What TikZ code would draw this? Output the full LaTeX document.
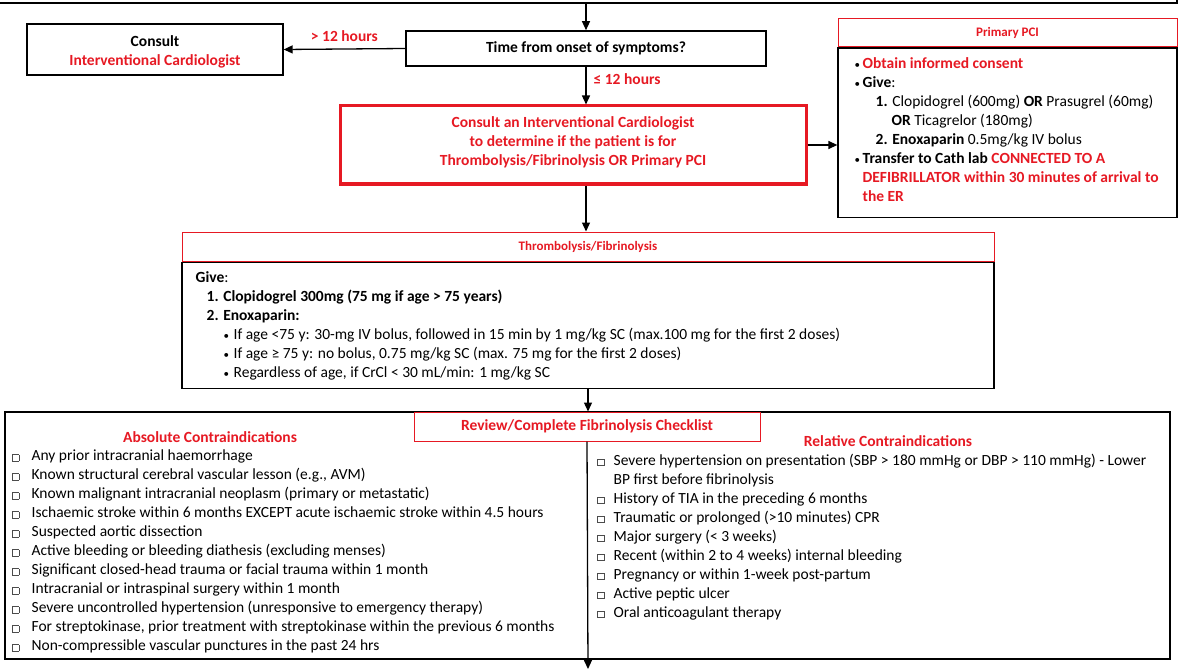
\documentclass[tikz,border=0pt]{standalone}
\usepackage{fontspec}
\setmainfont{Carlito}
\usetikzlibrary{positioning,arrows.meta}
\definecolor{cardred}{RGB}{230,25,35}
\newcommand{\rd}[1]{{\color{cardred}\bfseries #1}}
\newcommand{\chk}{\textcolor{black!70}{\setlength{\fboxsep}{0pt}\setlength{\fboxrule}{0.6pt}\fbox{\rule{0pt}{6pt}\rule{6pt}{0pt}}}}
\newcommand{\dotitem}[1][8pt]{\makebox[#1][l]{\fontsize{11}{11}\selectfont\textbullet}}
\begin{document}
\begin{tikzpicture}[x=1pt,y=-1pt,>={Triangle[length=9pt,width=8pt]},line width=1.3pt,font=\fontsize{15.5}{19}\selectfont]
    \tikzset{
        flowbox/.style={draw, align=center, inner sep=0pt},
        redbox/.style={draw=cardred, line width=3pt, align=center, inner sep=0pt, text=cardred, font=\fontsize{15.5}{19}\selectfont\bfseries},
        headbox/.style={draw=cardred, line width=1pt, fill=white, text=cardred, inner sep=0pt, font=\fontsize{13}{15}\selectfont\bfseries},
        listtext/.style={align=left, inner sep=0pt, anchor=north west},
        redlabel/.style={text=cardred, font=\fontsize{15.5}{19}\selectfont\bfseries, inner sep=2pt}
    }
    \useasboundingbox (0,0) rectangle (1182,671);
    \node[flowbox, line width=2.5pt, minimum width=1180, minimum height=46] (prevstep) at (587,-20) {};
    \node[flowbox, line width=1.6pt, minimum width=360, minimum height=35] (onset) at (586,48.5) {\bfseries Time from onset of symptoms?};
    \node[flowbox, minimum width=256, minimum height=51] (consult) at (155,49.5) {\rule{0pt}{16pt}\bfseries Consult\\\rd{Interventional Cardiologist}};
    \node[redbox, minimum width=466, minimum height=78] (decide) at (573,145) {Consult an Interventional Cardiologist\\to determine if the patient is for\\Thrombolysis/Fibrinolysis OR Primary PCI\rule[-7pt]{0pt}{7pt}};

    \node[headbox, minimum width=339, minimum height=28] (pcihead) at (1007.5,33) {Primary PCI};
    \node[flowbox, minimum width=339, minimum height=169, below=0pt of pcihead] (pcibody) {};
    \node[listtext] (pcitext) at (854,56.5) {\dotitem\rd{Obtain informed consent}\\
        \dotitem\textbf{Give}:\\
        \hspace*{21pt}\textbf{1.} Clopidogrel (600mg) \textbf{OR} Prasugrel (60mg)\\
        \hspace*{37pt}\textbf{OR} Ticagrelor (180mg)\\
        \hspace*{21pt}\textbf{2. Enoxaparin} 0.5mg/kg IV bolus\\
        \dotitem\textbf{Transfer to Cath lab} \rd{CONNECTED TO A}\\
        \hspace*{8pt}\rd{DEFIBRILLATOR within 30 minutes of arrival to}\\
        \hspace*{8pt}\rd{the ER}};

    \node[headbox, minimum width=812, minimum height=29] (thromhead) at (588,246.5) {Thrombolysis/Fibrinolysis};
    \node[flowbox, minimum width=812, minimum height=126, below=0pt of thromhead] (thrombody) {};
    \node[listtext] (thromtext) at (195,271) {\textbf{Give}:\\
        \hspace*{11pt}\textbf{1. Clopidogrel 300mg (75 mg if age > 75 years)}\\
        \hspace*{11pt}\textbf{2. Enoxaparin:}\\
        \hspace*{28pt}\dotitem[10pt]If age <75 y: 30-mg IV bolus, followed in 15 min by 1 mg/kg SC (max.100 mg for the first 2 doses)\\
        \hspace*{28pt}\dotitem[10pt]If age ≥ 75 y: no bolus, 0.75 mg/kg SC (max. 75 mg for the first 2 doses)\\
        \hspace*{28pt}\dotitem[10pt]Regardless of age, if CrCl < 30 mL/min: 1 mg/kg SC};

    \node[flowbox, line width=1.8pt, minimum width=1165, minimum height=247] (checkframe) at (587.5,535.5) {};
    \node[headbox, font=\fontsize{15.5}{19}\selectfont\bfseries, minimum width=346, minimum height=29] (checkhead) at (587,426.5) {Review/Complete Fibrinolysis Checklist};
    \node[redlabel] (abstitle) at (210,437) {Absolute Contraindications};
    \node[redlabel] (reltitle) at (888,441) {Relative Contraindications};
    \node[listtext] (abslist) at (11.5,449.5) {\makebox[19.5pt][l]{\chk}Any prior intracranial haemorrhage\\
        \makebox[19.5pt][l]{\chk}Known structural cerebral vascular lesson (e.g., AVM)\\
        \makebox[19.5pt][l]{\chk}Known malignant intracranial neoplasm (primary or metastatic)\\
        \makebox[19.5pt][l]{\chk}Ischaemic stroke within 6 months EXCEPT acute ischaemic stroke within 4.5 hours\\
        \makebox[19.5pt][l]{\chk}Suspected aortic dissection\\
        \makebox[19.5pt][l]{\chk}Active bleeding or bleeding diathesis (excluding menses)\\
        \makebox[19.5pt][l]{\chk}Significant closed-head trauma or facial trauma within 1 month\\
        \makebox[19.5pt][l]{\chk}Intracranial or intraspinal surgery within 1 month\\
        \makebox[19.5pt][l]{\chk}Severe uncontrolled hypertension (unresponsive to emergency therapy)\\
        \makebox[19.5pt][l]{\chk}For streptokinase, prior treatment with streptokinase within the previous 6 months\\
        \makebox[19.5pt][l]{\chk}Non-compressible vascular punctures in the past 24 hrs};
    \node[listtext] (rellist) at (596.5,453.5) {\makebox[16.5pt][l]{\chk}Severe hypertension on presentation (SBP > 180 mmHg or DBP > 110 mmHg) - Lower\\
        \hspace*{16.5pt}BP first before fibrinolysis\\
        \makebox[16.5pt][l]{\chk}History of TIA in the preceding 6 months\\
        \makebox[16.5pt][l]{\chk}Traumatic or prolonged (>10 minutes) CPR\\
        \makebox[16.5pt][l]{\chk}Major surgery (< 3 weeks)\\
        \makebox[16.5pt][l]{\chk}Recent (within 2 to 4 weeks) internal bleeding\\
        \makebox[16.5pt][l]{\chk}Pregnancy or within 1-week post-partum\\
        \makebox[16.5pt][l]{\chk}Active peptic ulcer\\
        \makebox[16.5pt][l]{\chk}Oral anticoagulant therapy};
    \coordinate (nextstep) at (588,669);

    \draw[->] (prevstep.south -| onset.north) -- (onset.north);
    \draw[->] (onset.west) -- node[redlabel, above=5pt] (late) {> 12 hours} (consult.east);
    \draw[->] (onset.south) -- node[redlabel, pos=0.33, right=5pt] (early) {≤ 12 hours} (onset.south |- decide.north);
    \draw[->] (decide.east) -- (decide.east -| pcibody.west);
    \draw[->] (decide.south -| onset.south) -- (onset.south |- thromhead.north);
    \draw[->] (thrombody.south) -- (thrombody.south |- checkhead.north);
    \draw[->] (checkhead.south) -- (nextstep);
\end{tikzpicture}
\end{document}
